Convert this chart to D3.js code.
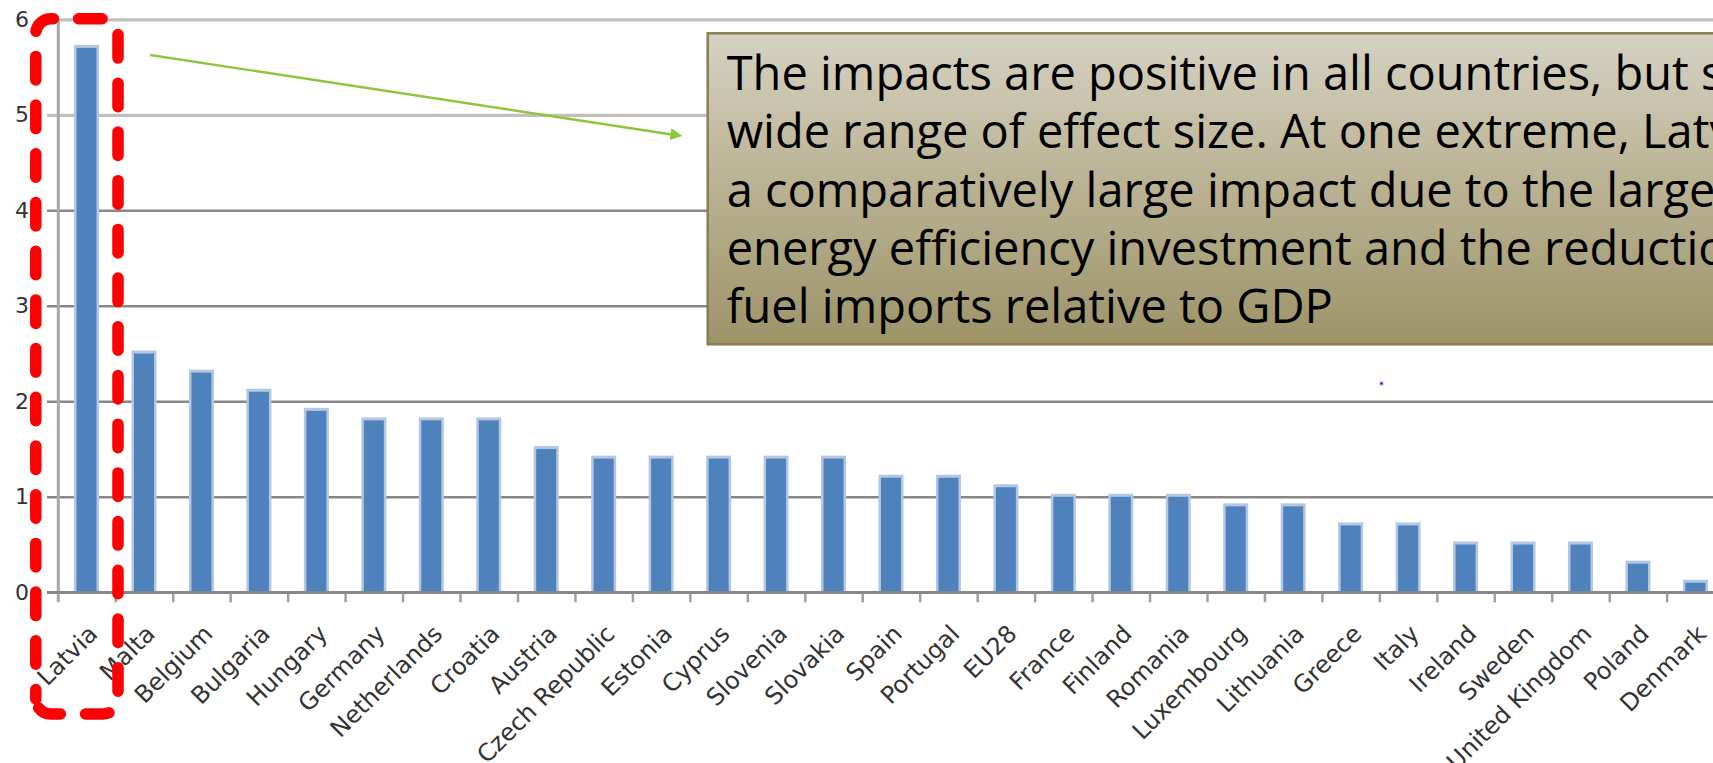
<!DOCTYPE html>
<html>
<head>
<meta charset="utf-8">
<script src="https://cdn.jsdelivr.net/npm/d3@7"></script>
<style>
  html, body { margin: 0; padding: 0; background: #ffffff; overflow: hidden; }
  svg { display: block; }
</style>
</head>
<body>
<svg id="chart" width="1713" height="763"></svg>
<script>
// GDP impact of energy-efficiency investment by country (%)
const countries = [
  "Latvia", "Malta", "Belgium", "Bulgaria", "Hungary", "Germany", "Netherlands",
  "Croatia", "Austria", "Czech Republic", "Estonia", "Cyprus", "Slovenia", "Slovakia",
  "Spain", "Portugal", "EU28", "France", "Finland", "Romania", "Luxembourg",
  "Lithuania", "Greece", "Italy", "Ireland", "Sweden", "United Kingdom", "Poland", "Denmark"
];
const impacts = [
  5.7, 2.5, 2.3, 2.1, 1.9, 1.8, 1.8,
  1.8, 1.5, 1.4, 1.4, 1.4, 1.4, 1.4,
  1.2, 1.2, 1.1, 1.0, 1.0, 1.0, 0.9,
  0.9, 0.7, 0.7, 0.5, 0.5, 0.5, 0.3, 0.1
];
const yTicks = [0, 1, 2, 3, 4, 5, 6];
const noteLines = [
  "The impacts are positive in all countries, but show a",
  "wide range of effect size. At one extreme, Latvia has",
  "a comparatively large impact due to the larger scale of",
  "energy efficiency investment and the reduction in fossil",
  "fuel imports relative to GDP"
];
const highlighted = "Latvia";

const W = 1713, H = 763;
const svg = d3.select("#chart");

// plot geometry
const x0 = 58.3, step = 57.46;
const x = d3.scaleBand()
  .domain(countries)
  .range([x0, x0 + step * countries.length])
  .paddingInner(0).paddingOuter(0);
const y = d3.scaleLinear().domain([0, 6]).range([592.3, 19.3]);

const defs = svg.append("defs");
const grad = defs.append("linearGradient")
  .attr("id", "noteFill").attr("x1", 0).attr("y1", 0).attr("x2", 0).attr("y2", 1);
grad.append("stop").attr("offset", "0%").attr("stop-color", "#d6d2c3");
grad.append("stop").attr("offset", "45%").attr("stop-color", "#bcb496");
grad.append("stop").attr("offset", "100%").attr("stop-color", "#9d9369");

defs.append("marker")
  .attr("id", "arrowHead")
  .attr("viewBox", "0 0 10 10").attr("refX", 8).attr("refY", 5)
  .attr("markerWidth", 5).attr("markerHeight", 5)
  .attr("markerUnits", "strokeWidth")
  .attr("orient", "auto")
  .append("path").attr("d", "M0,0 L10,5 L0,10 Z").attr("fill", "#8cc63f");

// horizontal gridlines + value labels
const yAxis = d3.axisLeft(y)
  .tickValues(yTicks)
  .tickFormat(d3.format("d"))
  .tickSize(-(W - 47))
  .tickPadding(18);
const gy = svg.append("g").attr("transform", "translate(47,0)").call(yAxis);
gy.select(".domain").remove();
gy.selectAll(".tick line")
  .attr("stroke", d => d >= 5 ? "#c0c0c0" : "#878787")
  .attr("stroke-width", d => d >= 5 ? 3.2 : 2.6);
gy.selectAll(".tick text")
  .attr("fill", "#333333")
  .style("font-family", "'DejaVu Sans', Verdana, sans-serif")
  .style("font-size", "22px");

// vertical axis line
svg.append("line")
  .attr("x1", x0).attr("x2", x0)
  .attr("y1", y(6)).attr("y2", y(0) + 10)
  .attr("stroke", "#a8a8a8").attr("stroke-width", 3);

// category boundary ticks
svg.append("g").selectAll("line")
  .data(countries)
  .join("line")
  .attr("x1", d => x(d) + x.bandwidth()).attr("x2", d => x(d) + x.bandwidth())
  .attr("y1", y(0)).attr("y2", y(0) + 10)
  .attr("stroke", "#a0a0a0").attr("stroke-width", 2.5);

// bars: soft halo plus solid body
const barW = 20, haloW = 25;
const bars = svg.append("g").selectAll("g")
  .data(countries.map((c, i) => ({ c, v: impacts[i] })))
  .join("g");
bars.append("rect")
  .attr("x", d => x(d.c) + x.bandwidth() / 2 - 0.5 - haloW / 2)
  .attr("y", d => y(d.v) - 3)
  .attr("width", haloW)
  .attr("height", d => y(0) - y(d.v) + 3)
  .attr("fill", "#b3c7e3");
bars.append("rect")
  .attr("x", d => x(d.c) + x.bandwidth() / 2 - 0.5 - barW / 2)
  .attr("y", d => y(d.v))
  .attr("width", barW)
  .attr("height", d => y(0) - y(d.v))
  .attr("fill", "#4f81bd");

// x axis baseline
svg.append("line")
  .attr("x1", 47).attr("x2", W)
  .attr("y1", y(0)).attr("y2", y(0))
  .attr("stroke", "#878787").attr("stroke-width", 2.6);

// country labels, rotated
const xAxis = d3.axisBottom(x).tickSize(0);
const gx = svg.append("g").attr("transform", `translate(0,${y(0)})`).call(xAxis);
gx.select(".domain").remove();
gx.selectAll(".tick text")
  .attr("x", 0).attr("y", 0).attr("dy", 0)
  .attr("text-anchor", "end")
  .attr("transform", "translate(12,43) rotate(-45)")
  .attr("fill", "#333333")
  .style("font-family", "'DejaVu Sans', Verdana, sans-serif")
  .style("font-size", "24px");

// red dashed frame around the highlighted country
const hx = x(highlighted);
const frame = { left: hx - 22.5, right: hx + 59.7, top: 18.7, bottom: 714, r: 15 };
const fp = d3.path();
fp.moveTo(frame.left, frame.bottom - frame.r);
fp.lineTo(frame.left, frame.top + frame.r);
fp.arcTo(frame.left, frame.top, frame.left + frame.r, frame.top, frame.r);
fp.lineTo(frame.right - frame.r, frame.top);
fp.arcTo(frame.right, frame.top, frame.right, frame.top + frame.r, frame.r);
fp.lineTo(frame.right, frame.bottom - frame.r);
fp.arcTo(frame.right, frame.bottom, frame.right - frame.r, frame.bottom, frame.r);
fp.lineTo(frame.left + frame.r, frame.bottom);
fp.arcTo(frame.left, frame.bottom, frame.left, frame.bottom - frame.r, frame.r);
fp.closePath();
svg.append("path")
  .attr("d", fp.toString())
  .attr("fill", "none")
  .attr("stroke", "#ff0000")
  .attr("stroke-width", 11.5)
  .attr("stroke-linecap", "round")
  .attr("stroke-dasharray", "23.5 25.2")
  .attr("stroke-dashoffset", 14);

// callout arrow
svg.append("line")
  .attr("x1", 150).attr("y1", 55)
  .attr("x2", 680).attr("y2", 135.7)
  .attr("stroke", "#8cc63f").attr("stroke-width", 2.4)
  .attr("marker-end", "url(#arrowHead)");

// note box
const note = svg.append("g");
note.append("rect")
  .attr("x", 707.7).attr("y", 33.3)
  .attr("width", 1100).attr("height", 311)
  .attr("fill", "url(#noteFill)")
  .attr("stroke", "#8a7d52").attr("stroke-width", 2.5);
note.append("text")
  .attr("x", 726.7).attr("y", 90)
  .style("font-family", "'Open Sans', 'Noto Sans', sans-serif")
  .style("font-size", "47px")
  .attr("fill", "#000000")
  .selectAll("tspan")
  .data(noteLines)
  .join("tspan")
  .attr("x", 726.7)
  .attr("dy", (d, i) => i === 0 ? 0 : 58.3)
  .text(d => d);

// stray marker
svg.append("rect")
  .attr("x", 1379.5).attr("y", 381.5).attr("width", 4).attr("height", 4)
  .attr("fill", "#b8b8ff");
svg.append("rect")
  .attr("x", 1380.5).attr("y", 382.5).attr("width", 2).attr("height", 2)
  .attr("fill", "#0000ff");
</script>
</body>
</html>
